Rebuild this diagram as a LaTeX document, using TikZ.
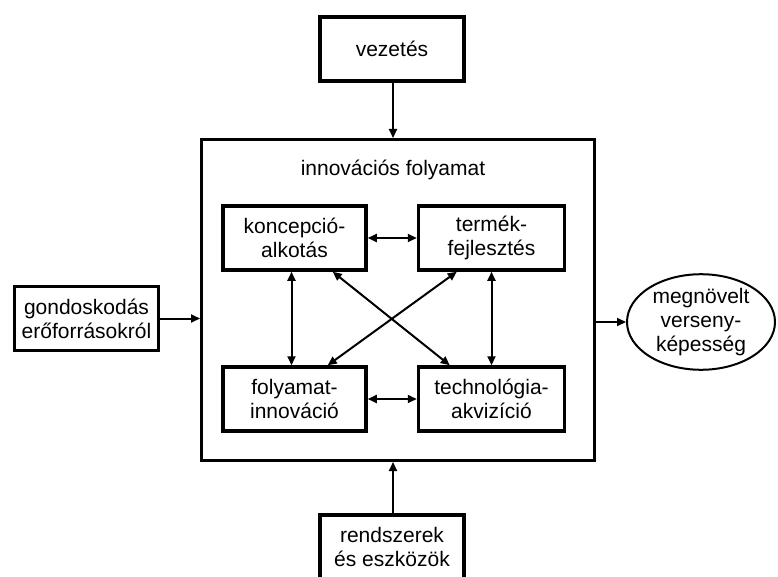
\documentclass[tikz,border=0pt]{standalone}
\usepackage{fontspec}
\setmainfont{Liberation Sans}
\usetikzlibrary{arrows.meta,positioning,calc,shapes.geometric}

\begin{document}
\begin{tikzpicture}[
  x=1pt,y=-1pt,>={Triangle[length=9pt,width=8pt]},
  lbl/.style={font=\fontsize{21}{24}\selectfont, align=center},
  obox/.style={lbl, draw, line width=3.5pt, inner sep=0pt, minimum width=144pt, minimum height=64pt},
  ibox/.style={lbl, draw, line width=3.5pt, inner sep=0pt, minimum width=143pt, minimum height=64pt},
  arr/.style={->, line width=2pt},
  darr/.style={<->, line width=2pt},
]
\useasboundingbox (0,0) rectangle (778,577);
\clip (0,0) rectangle (778,577);

% outer frame
\node[draw, line width=3pt, minimum width=393pt, minimum height=321pt] (main) at (398,300) {};
\node[lbl] (ttl) at (393,170) {innovációs folyamat};

% inputs and output
\node[obox] (vez) at (392,49) {vezetés};
\node[obox] (gond) at (86.5,318.5) {gondoskodás\\erőforrásokról};
\node[obox] (rend) at (392,547) {rendszerek\\és eszközök};
\node[lbl, ellipse, draw, line width=2pt, inner sep=0pt, minimum width=148pt, minimum height=94pt] (res) at (701,322) {megnövelt\\verseny-\\képesség};

% inner process
\node[ibox] (kon) at (294.5,238) {koncepció-\\alkotás};
\node[ibox, minimum width=146pt] (ter) at (491.5,238) {termék-\\fejlesztés};
\node[ibox] (fol) at (294.5,399) {folyamat-\\innováció};
\node[ibox, minimum width=146pt] (tec) at (491.5,399) {technológia-\\akvizíció};

\draw[arr] (vez.south -| ttl) -- (ttl |- main.north);
\draw[arr] (rend.north -| ttl) -- (ttl |- main.south);
\draw[arr] (gond.east) -- (gond.east -| main.west);
\draw[arr] (main.east |- res) -- (res.west);

\draw[darr] (kon.east) -- (ter.west);
\draw[darr] (fol.east) -- (tec.west);
\draw[darr] ([xshift=-3pt]kon.south) -- ([xshift=-3pt]fol.north);
\draw[darr] (ter.south) -- (tec.north);
\draw[darr] ([xshift=-35pt]kon.south east) -- ([xshift=33pt]tec.north west);
\draw[darr] ([xshift=40pt]ter.south west) -- ([xshift=-40pt]fol.north east);

\end{tikzpicture}
\end{document}
